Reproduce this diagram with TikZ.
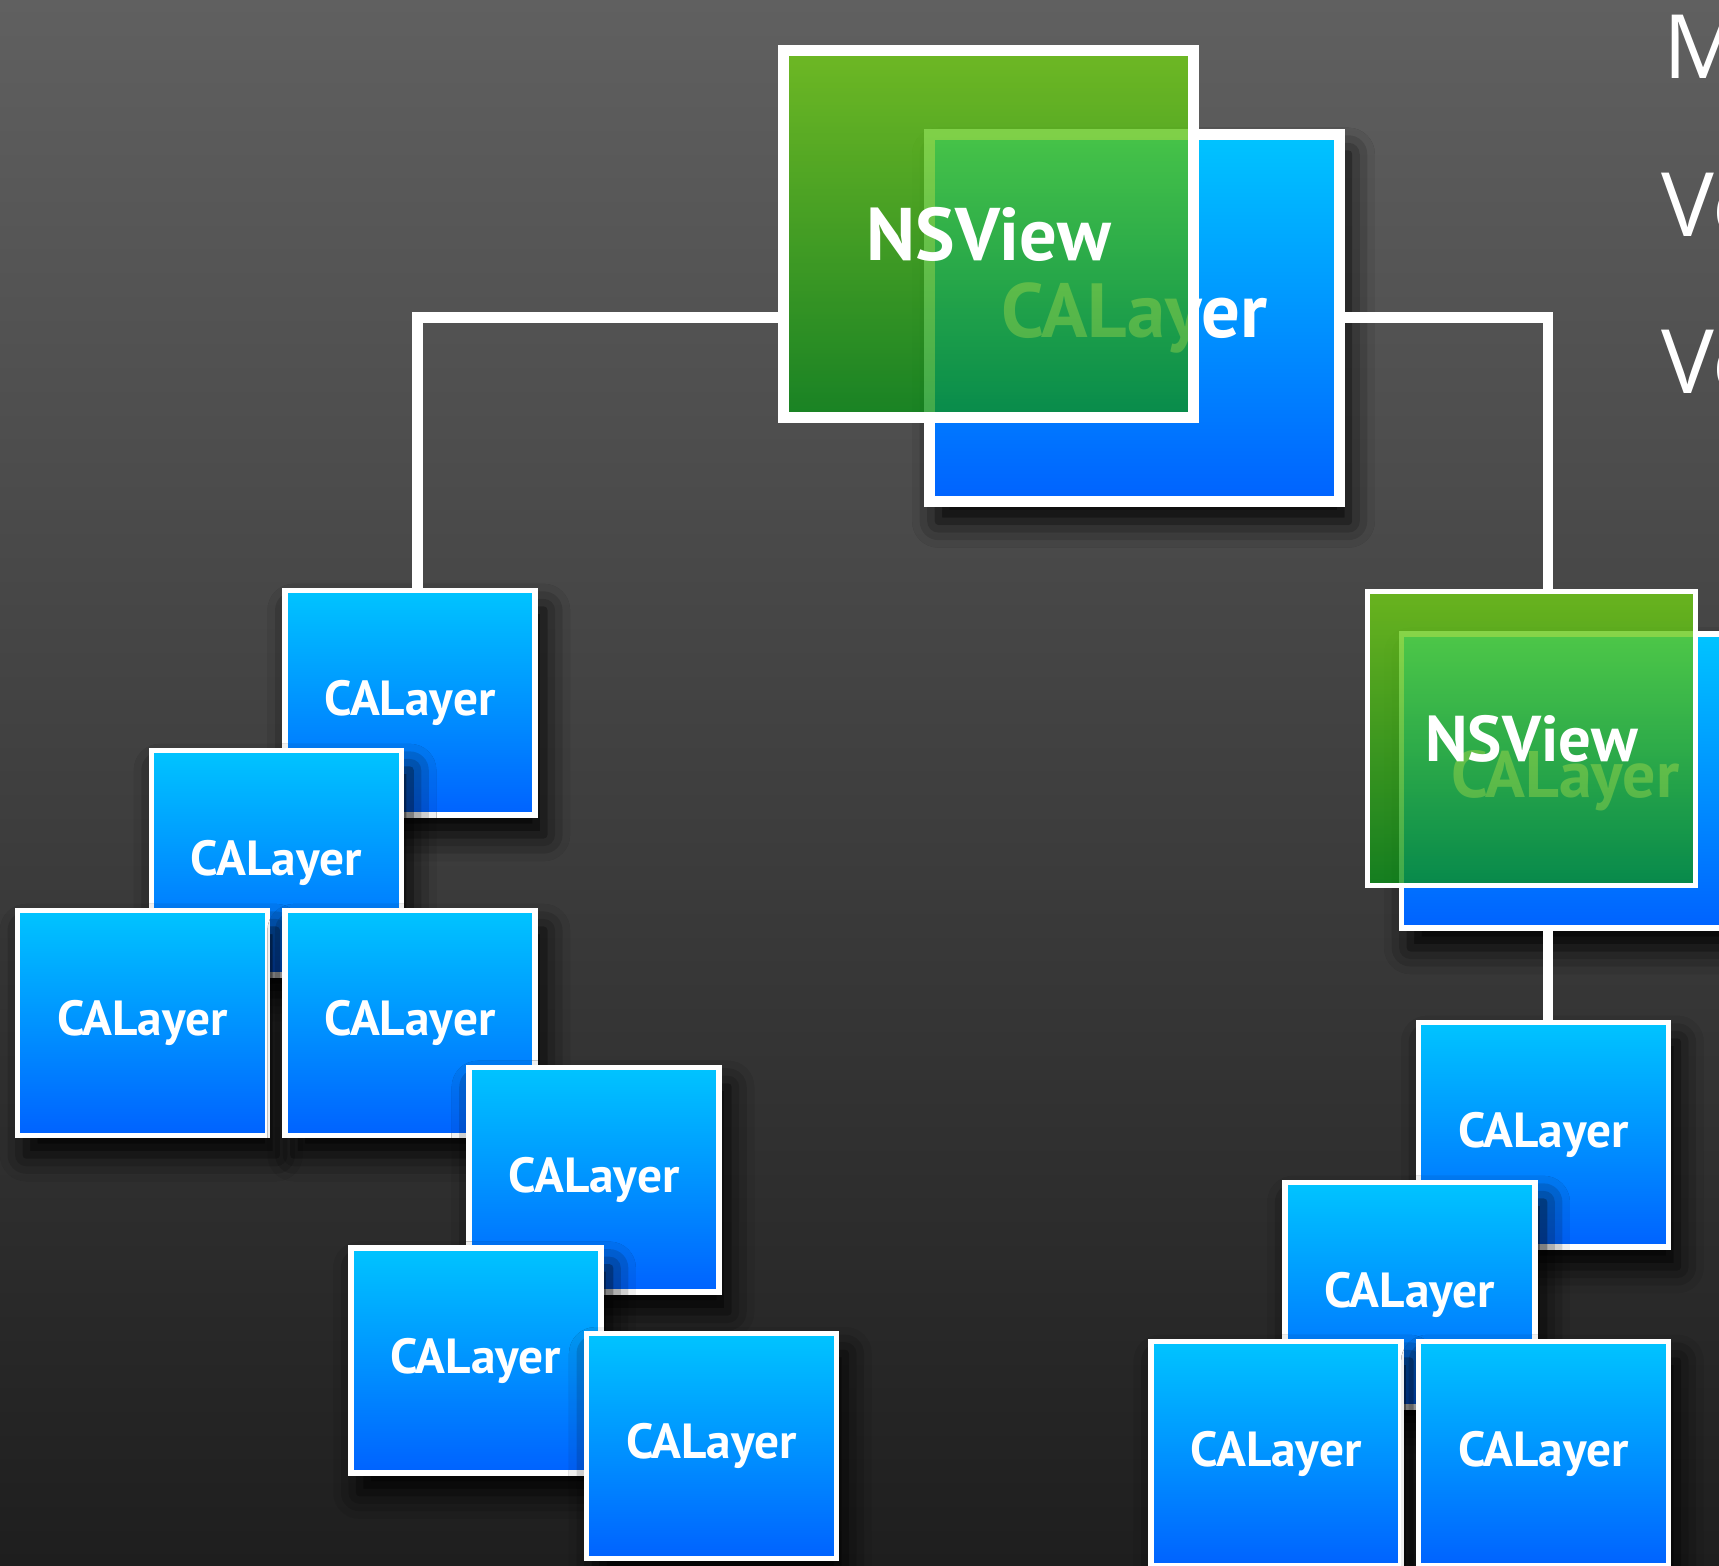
\documentclass[tikz,border=0pt]{standalone}
\usepackage{fontspec}
\setmainfont{PT Sans}
\newfontfamily\slidefont{Open Sans}
\usetikzlibrary{shadows.blur}

\definecolor{bgtop}{RGB}{96,96,96}
\definecolor{bgbot}{RGB}{30,30,30}
\definecolor{caltop}{RGB}{0,196,255}
\definecolor{calbot}{RGB}{0,98,255}
\definecolor{nsvtop}{RGB}{115,210,20}
\definecolor{nsvbot}{RGB}{10,145,25}

\begin{document}
\begin{tikzpicture}[x=1pt,y=-1pt]
\tikzstyle{every node}+=[inner sep=0pt]
\tikzstyle{boxshadow}=[blur shadow={shadow xshift=8pt, shadow yshift=-18pt, shadow blur radius=24pt, shadow opacity=100}]
\tikzstyle{calayer}=[boxshadow, draw=white, line width=5pt, top color=caltop, bottom color=calbot, minimum width=228pt, minimum height=205pt, text=white, font=\fontsize{45}{50}\selectfont\bfseries]
\tikzstyle{nsview}=[draw=white, top color=nsvtop, bottom color=nsvbot, fill opacity=0.78, draw opacity=1, text opacity=1, text=white]
\tikzstyle{bigbox}=[line width=10pt, minimum width=374pt, minimum height=335pt]
\tikzstyle{midbox}=[line width=5pt, minimum width=299pt, minimum height=268pt]
\tikzstyle{wire}=[white, line width=10pt]
\tikzstyle{slidetext}=[anchor=base west, text=white, font=\slidefont\fontsize{81}{90}\selectfont]

\useasboundingbox (0,0) rectangle (1568,1428);
\shade[top color=bgtop, bottom color=bgbot] (0,0) rectangle (1568,1428);
\clip (0,0) rectangle (1568,1428);

% root view and its layer
\node[calayer, bigbox, font=\fontsize{70}{76}\selectfont\bfseries] (tb) at (1035,290) {CALayer};
\node[nsview, bigbox, font=\fontsize{68}{74}\selectfont\bfseries] (tg) at (902,213.5) {NSView};

% second view
\node[calayer, midbox, font=\fontsize{60}{66}\selectfont\bfseries] (nb) at (1428,712.5) {CALayer};
\node[nsview, midbox, font=\fontsize{59}{64}\selectfont\bfseries] (nv) at (1397,673.5) {NSView};

% left layer tree
\node[calayer] (l1) at (374,641) {CALayer};
\node[calayer] (l2) at (252,787) {CALayer};
\node[calayer] (l3) at (130,933) {CALayer};
\node[calayer] (l4) at (374,933) {CALayer};
\node[calayer] (l5) at (542,1076) {CALayer};
\node[calayer] (l6) at (434,1241) {CALayer};
\node[calayer] (l7) at (649,1319) {CALayer};

% right layer tree
\node[calayer] (r1) at (1408,1035) {CALayer};
\node[calayer] (r2) at (1286,1181) {CALayer};
\node[calayer] (r3) at (1164,1326) {CALayer};
\node[calayer] (r4) at (1408,1326) {CALayer};

% connectors
\coordinate (lj) at ([xshift=7pt]l1.north);
\coordinate (rj) at ([xshift=4pt]r1.north);
\draw[wire] (tg.west |- tb.east) -| (lj);
\draw[wire] (tb.east) -| (rj |- nv.north);
\draw[wire] (rj |- nb.south) -- (rj);

% slide text cut at the edge
\node[slidetext] (tm) at (1517,72) {M};
\node[slidetext] (tv1) at (1515,216) {Ve};
\node[slidetext] (tv2) at (1515,359) {Ve};
\end{tikzpicture}
\end{document}
